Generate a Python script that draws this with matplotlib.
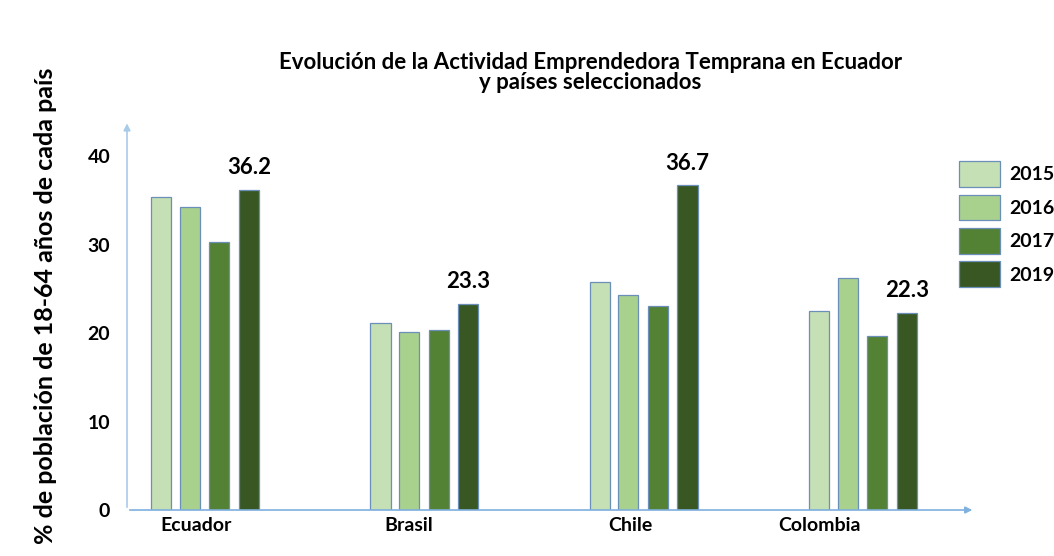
import matplotlib.pyplot as plt
import numpy as np

plt.rcParams["font.family"] = ["Lato", "DejaVu Sans"]
plt.rcParams["font.weight"] = "bold"

COUNTRIES = ["Ecuador", "Brasil", "Chile", "Colombia"]
YEARS = ["2015", "2016", "2017", "2019"]
v2015 = [35.4, 21.1, 25.8, 22.5]
v2016 = [34.2, 20.1, 24.3, 26.2]
v2017 = [30.3, 20.3, 23.1, 19.7]
v2019 = [36.2, 23.3, 36.7, 22.3]
colors = ['#c5e0b4', '#a9d18e', '#548235', '#385723']

fig = plt.figure(figsize=(10.54, 5.56), dpi=100)
ax = fig.add_axes([0.1205, 0.0827, 0.8046, 0.7004])

x = np.arange(len(COUNTRIES))
width = 0.092
offsets = [-0.2, -0.07, 0.065, 0.2]
series = [v2015, v2016, v2017, v2019]
for i, vals in enumerate(series):
    ax.bar(x + offsets[i], vals, width, color=colors[i], edgecolor='#6a8fb8',
           linewidth=0.9, label=YEARS[i], zorder=3)

# value labels only for 2019
for xi, v in zip(x, v2019):
    ax.text(xi + offsets[3], v + 1.3, f"{v}", ha='center', va='bottom',
            fontsize=16, fontweight='bold')

ax.set_xlim(-0.356, 3.511)
ax.set_ylim(0, 44)
ax.set_yticks([0, 10, 20, 30, 40])
ax.set_yticklabels(["0", "10", "20", "30", "40"], fontsize=14, fontweight='bold')
ax.set_xticks([-0.04, 0.93, 1.94, 2.80])
ax.set_xticklabels(COUNTRIES, fontsize=14, fontweight='bold')
ax.tick_params(axis='both', length=0)
ax.tick_params(axis='y', pad=12)
ax.tick_params(axis='x', pad=5)

for s in ax.spines.values():
    s.set_visible(False)

# hand-drawn style axes with arrows
ax.annotate('', xy=(1.0, 0.0), xytext=(0.0, 0.0), xycoords='axes fraction',
            arrowprops=dict(arrowstyle='-|>', color='#7fb0de', lw=1.2, mutation_scale=10))
ax.annotate('', xy=(0.0, 1.0), xytext=(0.0, 0.0), xycoords='axes fraction',
            arrowprops=dict(arrowstyle='-|>', color='#a9cbea', lw=1.2, mutation_scale=10))

fig.text(0.56, 0.87, "Evolución de la Actividad Emprendedora Temprana en Ecuador\ny países seleccionados",
         ha='center', va='center', fontsize=16, fontweight='bold', linespacing=0.95)

fig.text(0.043, 0.45, "% de población de 18-64 años de cada país", rotation=90,
         ha='center', va='center', fontsize=18, fontweight='bold')

ax.legend(loc='upper left', bbox_to_anchor=(0.91, 0.71), bbox_transform=fig.transFigure,
          frameon=False, fontsize=14, handlelength=2.1, handleheight=1.65,
          labelspacing=0.4, handletextpad=0.5, borderaxespad=0, borderpad=0)

fig.savefig("out.png", dpi=100)
